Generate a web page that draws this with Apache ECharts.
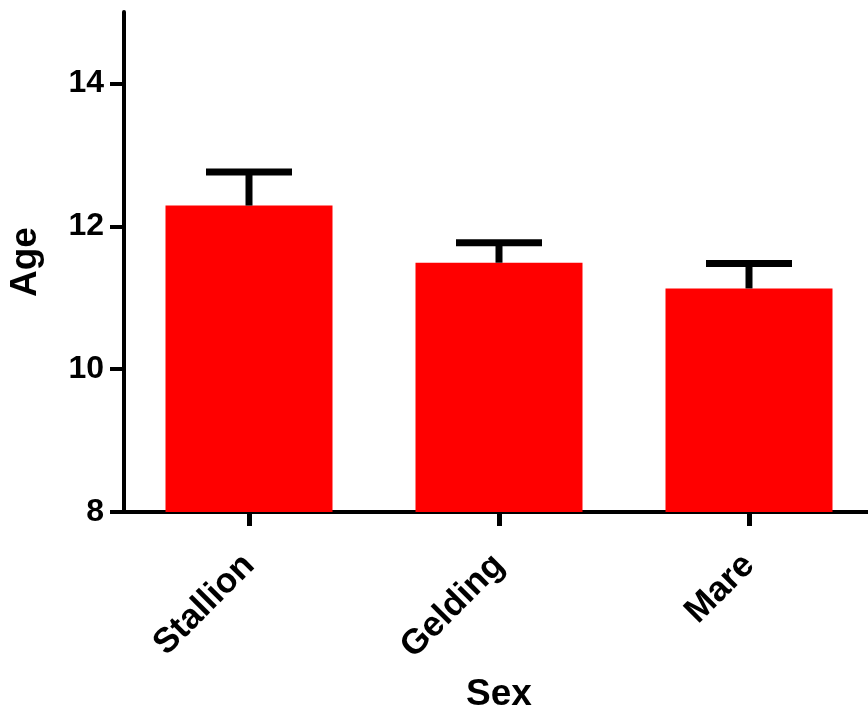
<!DOCTYPE html>
<html>
<head>
<meta charset="utf-8">
<style>
html,body{margin:0;padding:0;background:#fff;}
#chart{width:868px;height:712px;}
</style>
<script src="https://cdn.jsdelivr.net/npm/echarts@6/dist/echarts.min.js"></script>
</head>
<body>
<div id="chart"></div>
<script>
var categories = ['Stallion', 'Gelding', 'Mare'];
var meanAge = [12.29, 11.49, 11.13];
var errorTop = [12.76, 11.77, 11.48];
var yTicks = [8, 10, 12, 14];

var FONT = '"Liberation Sans", Arial, Helvetica, sans-serif';
var chart = echarts.init(document.getElementById('chart'));

var errData = categories.map(function (c, i) { return [i, meanAge[i], errorTop[i]]; });

chart.setOption({
  animation: false,
  backgroundColor: '#ffffff',
  grid: { left: 124, top: 12, width: 750, bottom: 200, containLabel: false, outerBoundsMode: 'none' },
  xAxis: {
    type: 'category',
    data: categories,
    boundaryGap: true,
    name: 'Sex',
    nameLocation: 'middle',
    nameGap: 164,
    nameMoveOverlap: false,
    nameTextStyle: { fontFamily: FONT, fontWeight: 'bold', fontSize: 37, color: '#000' },
    axisLine: { lineStyle: { color: '#000', width: 4 } },
    axisTick: { show: true, alignWithLabel: true, interval: 0, length: 14, lineStyle: { color: '#000', width: 5 } },
    axisLabel: { interval: 0, rotate: 45, margin: 48, fontFamily: FONT, fontWeight: 'bold', fontSize: 35, color: '#000' },
    splitLine: { show: false }
  },
  yAxis: {
    type: 'value',
    min: 8,
    max: 15,
    interval: 2,
    name: 'Age',
    nameLocation: 'middle',
    nameRotate: 90,
    nameGap: 80,
    nameMoveOverlap: false,
    nameTextStyle: { fontFamily: FONT, fontWeight: 'bold', fontSize: 37, color: '#000' },
    axisLine: { show: true, lineStyle: { color: '#000', width: 4 } },
    axisTick: { show: true, length: 14, customValues: yTicks, lineStyle: { color: '#000', width: 4 } },
    axisLabel: { margin: 20, customValues: yTicks, fontFamily: FONT, fontWeight: 'bold', fontSize: 32, color: '#000' },
    splitLine: { show: false }
  },
  series: [
    {
      type: 'bar',
      data: meanAge,
      barWidth: 167,
      itemStyle: { color: '#ff0000' },
      z: 2
    },
    {
      type: 'custom',
      data: errData,
      z: 3,
      renderItem: function (params, api) {
        var base = api.coord([api.value(0), api.value(1)]);
        var top = api.coord([api.value(0), api.value(2)]);
        var half = 43;
        var st = { stroke: '#000', lineWidth: 7, fill: null };
        return {
          type: 'group',
          children: [
            { type: 'line', shape: { x1: top[0], y1: base[1], x2: top[0], y2: top[1] }, style: st },
            { type: 'line', shape: { x1: top[0] - half, y1: top[1], x2: top[0] + half, y2: top[1] }, style: st }
          ]
        };
      }
    }
  ]
});
</script>
</body>
</html>
